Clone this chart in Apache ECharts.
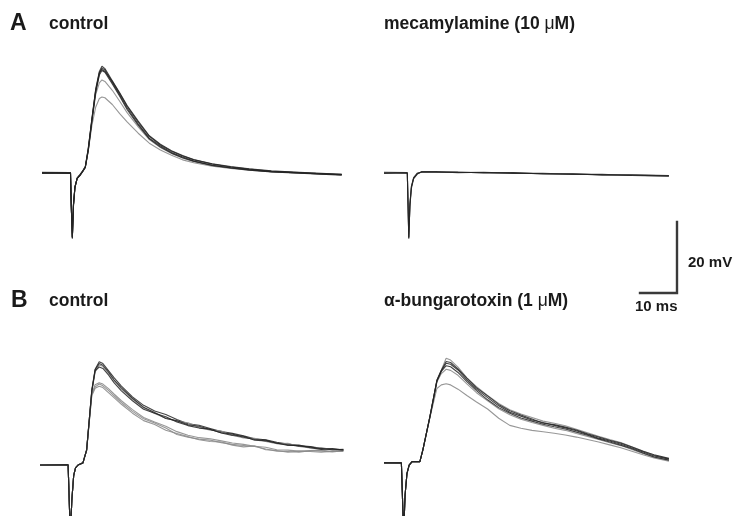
<!DOCTYPE html>
<html>
<head>
<meta charset="utf-8">
<script src="https://cdn.jsdelivr.net/npm/echarts@6/dist/echarts.min.js"></script>
<style>
html,body{margin:0;padding:0;background:#fff;}
#chart{width:734px;height:516px;}
</style>
</head>
<body>
<div id="chart"></div>
<script>
// ---------------- DATA (time in ms from trace start, membrane potential in mV from baseline) ----------------
// Panel A, control
const tA = [0, 7.7, 7.9, 8.2, 8.5, 8.9, 9.5, 10.3, 11, 11.7, 12.5, 13.5, 14.5, 15.5, 16.2, 17, 19, 21, 23, 26, 29, 32, 35, 38, 41, 46, 51, 56, 62, 68, 74, 81];
const aCtrl1 = [0, 0, -9, -18.3, -9, -4, -1.5, -0.6, 0.5, 1.6, 6.5, 15, 23, 28, 29.6, 29, 25.5, 22, 18.3, 13.8, 9.8, 7.6, 5.8, 4.5, 3.4, 2.2, 1.5, 0.9, 0.4, 0.1, -0.2, -0.5];
const aCtrl2 = [0.2, 0.1, -8.5, -18, -9.5, -4.2, -1.4, -0.4, 0.6, 1.8, 7, 15.5, 23.3, 28.3, 29.2, 28.6, 25.8, 22.4, 18.8, 14.3, 10.3, 7.9, 6.1, 4.8, 3.7, 2.5, 1.7, 1.1, 0.5, 0.2, -0.1, -0.4];
const aCtrl3 = [-0.1, 0, -9.2, -18.5, -8.8, -3.8, -1.6, -0.7, 0.4, 1.5, 6.2, 14.7, 22.6, 27.6, 28.9, 28.4, 25.1, 21.6, 17.9, 13.5, 9.6, 7.3, 5.6, 4.3, 3.3, 2.1, 1.4, 0.8, 0.3, 0, -0.3, -0.6];
const aCtrl4 = [0.1, -0.1, -8.8, -18.2, -9.2, -4.1, -1.5, -0.5, 0.5, 1.7, 6.8, 15.2, 23.6, 28.6, 30.1, 29.4, 26, 22.6, 19, 14.6, 10.5, 8.1, 6.3, 4.9, 3.8, 2.6, 1.8, 1.2, 0.6, 0.3, 0, -0.4];
const aCtrl5 = [0, 0, -9, -18, -9, -4, -1.5, -0.5, 0.5, 1.6, 6.4, 14.6, 22, 25.4, 26.2, 25.8, 23.3, 20.2, 17, 13, 9.4, 7.2, 5.5, 4.2, 3.2, 2.1, 1.4, 0.9, 0.4, 0.1, -0.2, -0.5];
const aCtrl6 = [0, 0, -9, -18, -9, -4, -1.5, -0.5, 0.5, 1.6, 6.2, 13.5, 18.5, 21, 21.4, 21.2, 19.3, 16.7, 14.4, 11.2, 8.4, 6.5, 5, 3.7, 2.9, 1.9, 1.3, 0.8, 0.4, 0.1, -0.2, -0.5];

// Panel A, mecamylamine (10 µM)
const tM = [0, 6.3, 6.5, 6.7, 7.0, 7.4, 8.0, 9.0, 10.2, 14, 20, 27, 35, 43, 51, 59, 67, 77];
const aMec1 = [0, 0, -9, -18.3, -9, -4, -1.5, -0.2, 0.3, 0.3, 0.2, 0.1, 0, -0.2, -0.3, -0.5, -0.6, -0.8];
const aMec2 = [0.2, 0.1, -8.5, -18, -9.5, -4.3, -1.6, -0.3, 0.4, 0.4, 0.1, 0.2, -0.1, -0.1, -0.4, -0.4, -0.7, -0.9];
const aMec3 = [-0.1, 0, -9.3, -18.5, -8.7, -3.8, -1.3, 0, 0.2, 0.2, 0.3, 0, 0.1, -0.3, -0.2, -0.6, -0.5, -0.7];

// Panel B, control
const tB = [0, 7.6, 7.9, 8.2, 8.6, 9.1, 9.6, 10.3, 10.9, 11.6, 12.6, 14, 14.9, 16, 17, 18.5, 20, 22, 25, 28, 31, 34, 37, 40, 43, 46, 49, 52, 55, 58, 61, 64, 67, 70, 73, 76, 79, 82];
const bCtrl1 = [0, 0, -10, -20, -10, -3, -0.8, 0, 0.3, 0.6, 4.2, 21.1, 27, 29.1, 28.6, 26.6, 24.6, 22.2, 19.2, 16.8, 15.2, 14.2, 12.8, 11.6, 11.2, 10.3, 9.4, 8.9, 8.2, 7.4, 7.1, 6.4, 5.9, 5.5, 5.2, 4.7, 4.5, 4.3];
const bCtrl2 = [0.1, 0, -10, -20, -10, -3, -0.8, 0, 0.3, 0.6, 4.2, 20.6, 26.2, 28.2, 27.8, 25.9, 23.8, 21.4, 18.6, 16.1, 14.5, 13.2, 12.3, 11.9, 10.6, 9.8, 9.6, 8.4, 7.6, 7.5, 6.6, 6, 6.1, 5.2, 4.8, 4.9, 4.3, 4.1];
const bCtrl3 = [0, 0.1, -10, -20, -10, -3, -0.8, 0, 0.3, 0.6, 4.1, 20.8, 26.5, 27.6, 27.2, 25.4, 23.2, 20.9, 18.1, 15.7, 14.6, 13.6, 12.1, 11.1, 10.4, 10.1, 9, 8.3, 8.1, 7, 6.8, 6.2, 5.5, 5.6, 4.9, 4.4, 4.6, 4.2];
const bCtrl4 = [0, 0, -10, -20, -10, -3, -0.8, 0, 0.3, 0.6, 4.3, 20.9, 26.8, 28.6, 28.1, 26.2, 24, 21.7, 18.8, 16.3, 14.8, 13.1, 12.5, 11.3, 10.9, 10, 9.1, 8.7, 7.8, 7.2, 7, 6.1, 5.7, 5.3, 5.1, 4.6, 4.3, 4.4];
const bCtrl5 = [0, 0, -10, -20, -10, -3, -0.8, 0, 0.3, 0.6, 4.2, 19.8, 22, 22.8, 22.3, 21, 19.5, 17.6, 15.1, 13, 11.8, 10.4, 8.6, 7.8, 7.3, 7, 6.3, 5.8, 5.5, 5.2, 4.5, 3.9, 3.8, 3.6, 4, 3.9, 3.7, 4];
const bCtrl6 = [0, 0, -10, -20, -10, -3, -0.8, 0, 0.3, 0.6, 4.1, 19.5, 21.6, 22.2, 21.8, 20.4, 19, 17.1, 14.6, 12.5, 11.4, 9.8, 8.9, 8, 7.1, 6.6, 6.5, 5.6, 5.1, 5.4, 4.3, 4.1, 3.6, 3.9, 3.8, 3.6, 3.9, 3.8];
const bCtrl7 = [0, 0, -10, -20, -10, -3, -0.8, 0, 0.3, 0.6, 4.2, 20.1, 22.6, 23.2, 22.8, 21.5, 20, 18.1, 15.6, 13.4, 12.1, 10.9, 9.4, 8.4, 7.7, 7.4, 6.8, 6.2, 5.8, 5.3, 5, 4.3, 4.2, 3.9, 4.1, 4.2, 3.8, 4.1];

// Panel B, alpha-bungarotoxin (1 µM)
const tG = [0, 4.7, 5.0, 5.3, 5.7, 6.2, 6.8, 7.6, 9.7, 10.5, 12.4, 14.3, 15.5, 16.8, 18, 20, 22.4, 25, 28, 31, 34, 37, 40, 43, 46, 49, 52, 55, 58, 61, 64, 67, 70, 73, 77];
const bBgt1 = [0, 0, -10, -20, -9, -3, -0.6, 0.4, 0.4, 3.7, 13, 23.4, 26.2, 29.5, 29, 27, 24, 21.5, 19, 16.8, 15, 13.8, 12.8, 11.8, 11.2, 10.5, 9.5, 8.5, 7.5, 6.6, 5.8, 4.6, 3.4, 2.2, 1.2];
const bBgt2 = [0.1, 0, -10, -20, -9, -3, -0.6, 0.4, 0.4, 3.7, 13, 23.2, 26, 28.1, 27.8, 26.2, 23.4, 20.8, 18.4, 16.1, 14.3, 13.2, 12.1, 11.4, 10.6, 9.9, 9.1, 8, 7, 6.2, 5.3, 4.2, 3.1, 2, 1.1];
const bBgt3 = [0, 0.1, -10, -20, -9, -3, -0.6, 0.4, 0.4, 3.6, 12.9, 23, 25.8, 27.4, 27.1, 25.5, 22.9, 20.4, 17.8, 15.6, 14, 12.7, 11.8, 10.9, 10.2, 9.6, 8.7, 7.8, 6.8, 5.9, 5, 4, 2.8, 1.7, 0.8];
const bBgt4 = [0, 0, -10, -20, -9, -3, -0.6, 0.4, 0.4, 3.7, 13.1, 23.3, 26.1, 28.6, 28.3, 26.5, 23.9, 21.2, 18.9, 16.5, 14.7, 13.5, 12.4, 11.2, 10.8, 10.1, 9.3, 8.2, 7.3, 6.4, 5.6, 4.5, 3.3, 2.3, 1.3];
const bBgt5 = [0, 0, -10, -20, -9, -3, -0.6, 0.4, 0.4, 3.6, 12.8, 22.8, 25.2, 26.4, 26.1, 24.7, 22.3, 19.8, 17.5, 15.3, 13.6, 12.3, 11.4, 10.6, 9.8, 9.2, 8.3, 7.5, 6.6, 5.7, 4.9, 3.8, 2.7, 1.6, 0.7];
const bBgt6 = [0, 0, -10, -20, -9, -3, -0.6, 0.4, 0.4, 3.6, 12.8, 21, 22, 22.3, 22, 20.8, 19, 17.2, 15.2, 12.6, 10.6, 9.8, 9.2, 8.8, 8.4, 7.9, 7.3, 6.6, 5.9, 5.1, 4.3, 3.3, 2.3, 1.4, 0.5];

// Scale bar values
const scaleBarMs = 10;
const scaleBarMv = 20;

// Texts
const panelLetters = ['A', 'B'];
const panelTitles = ['control', 'mecamylamine (10 {u|μ}M)', 'control', 'α-bungarotoxin (1 {u|μ}M)'];
const scaleLabels = ['20 mV', '10 ms'];

// ---------------- LAYOUT ----------------
const PX_PER_MS = 3.7, PX_PER_MV = 3.55;
const X_MAX = 82, Y_MIN = -22, Y_MAX = 34;
const DARK = 'rgba(35,35,35,0.85)';
const LIGHT = 'rgba(140,140,140,0.9)';

const panels = [
  { left: 42,  base: 173, t: tA, sweeps: [[aCtrl5, LIGHT], [aCtrl6, LIGHT], [aCtrl1, DARK], [aCtrl2, DARK], [aCtrl3, DARK], [aCtrl4, DARK]] },
  { left: 384, base: 173, t: tM, sweeps: [[aMec1, DARK], [aMec2, DARK], [aMec3, DARK]] },
  { left: 40,  base: 465, t: tB, sweeps: [[bCtrl5, LIGHT], [bCtrl6, LIGHT], [bCtrl7, LIGHT], [bCtrl1, DARK], [bCtrl2, LIGHT], [bCtrl3, DARK], [bCtrl4, DARK]] },
  { left: 384, base: 463, t: tG, sweeps: [[bBgt6, LIGHT], [bBgt5, LIGHT], [bBgt1, LIGHT], [bBgt2, DARK], [bBgt3, DARK], [bBgt4, DARK]] }
];

const grid = [], xAxis = [], yAxis = [], series = [];
panels.forEach((p, i) => {
  grid.push({
    left: p.left,
    top: p.base - Y_MAX * PX_PER_MV,
    width: X_MAX * PX_PER_MS,
    height: (Y_MAX - Y_MIN) * PX_PER_MV,
    containLabel: false,
    outerBoundsMode: 'none'
  });
  xAxis.push({ type: 'value', gridIndex: i, min: 0, max: X_MAX, show: false });
  yAxis.push({ type: 'value', gridIndex: i, min: Y_MIN, max: Y_MAX, show: false });
  p.sweeps.forEach(([vals, col]) => {
    series.push({
      type: 'line',
      xAxisIndex: i, yAxisIndex: i,
      data: p.t.map((t, k) => [t, vals[k]]),
      showSymbol: false,
      silent: true,
      clip: true,
      lineStyle: { color: col, width: 1.1 },
      animation: false
    });
  });
});

// scale bar grid
const sbIdx = panels.length;
grid.push({ left: 640, top: 222, width: scaleBarMs * PX_PER_MS, height: scaleBarMv * PX_PER_MV, containLabel: false, outerBoundsMode: 'none' });
xAxis.push({ type: 'value', gridIndex: sbIdx, min: -scaleBarMs, max: 0, show: false });
yAxis.push({ type: 'value', gridIndex: sbIdx, min: 0, max: scaleBarMv, show: false });
series.push({
  type: 'line', xAxisIndex: sbIdx, yAxisIndex: sbIdx,
  data: [[0, scaleBarMv], [0, 0], [-scaleBarMs, 0]],
  showSymbol: false, silent: true, clip: false, animation: false,
  lineStyle: { color: '#3a3a3a', width: 2.4, cap: 'square', join: 'miter' }
});

const FONT = '"Liberation Sans", Arial, Helvetica, sans-serif';
function txt(x, y, text, size, extra) {
  return {
    type: 'text', x: x, y: y, silent: true,
    style: Object.assign({
      text: text,
      font: 'bold ' + size + 'px ' + FONT,
      fill: '#1a1a1a',
      textVerticalAlign: 'middle',
      verticalAlign: 'middle',
      rich: {
        u: { font: 'normal ' + size + 'px ' + FONT, fill: '#1a1a1a' }
      }
    }, extra || {})
  };
}

const graphic = [
  txt(10, 24, panelLetters[0], 23),
  txt(11, 301, panelLetters[1], 23),
  txt(49, 24, panelTitles[0], 17.5),
  txt(384, 24, panelTitles[1], 17.5),
  txt(49, 301, panelTitles[2], 17.5),
  txt(384, 301, panelTitles[3], 17.5),
  txt(688, 263, scaleLabels[0], 15),
  txt(635, 307, scaleLabels[1], 15)
];

const chart = echarts.init(document.getElementById('chart'), null, { renderer: 'canvas' });
chart.setOption({
  backgroundColor: '#ffffff',
  animation: false,
  grid: grid,
  xAxis: xAxis,
  yAxis: yAxis,
  series: series,
  graphic: graphic
});
</script>
</body>
</html>
